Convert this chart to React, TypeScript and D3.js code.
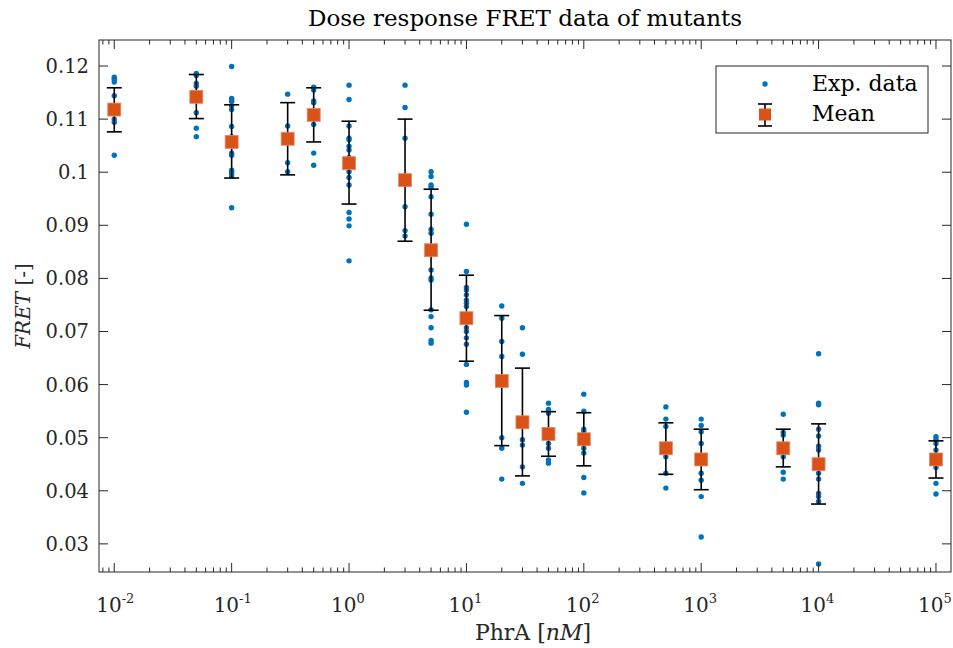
import React from "react";
import * as d3 from "d3";

const doses = [0.01, 0.05, 0.1, 0.3, 0.5, 1, 3, 5, 10, 20, 30, 50, 100, 500, 1000, 5000, 10000, 100000];

const expData: number[][] = [
  [0.1179, 0.1175, 0.1170, 0.1144, 0.1120, 0.1115, 0.1100, 0.1094, 0.1032],
  [0.1186, 0.1182, 0.1167, 0.1162, 0.1145, 0.1140, 0.1112, 0.1083, 0.1067],
  [0.1199, 0.1139, 0.1136, 0.1133, 0.1125, 0.1118, 0.1086, 0.1067, 0.1057, 0.1036, 0.1032, 0.1004, 0.1001, 0.0997, 0.0993, 0.0933],
  [0.1147, 0.1087, 0.1065, 0.1060, 0.1018, 0.1001],
  [0.1160, 0.1155, 0.1134, 0.1131, 0.1110, 0.1105, 0.1090, 0.1036, 0.1013],
  [0.1164, 0.1137, 0.1087, 0.1064, 0.1061, 0.1049, 0.1042, 0.1028, 0.1020, 0.1010, 0.1001, 0.0990, 0.0976, 0.0924, 0.0912, 0.0899, 0.0833],
  [0.1164, 0.1122, 0.1064, 0.0990, 0.0980, 0.0935, 0.0890, 0.0880],
  [0.1001, 0.0992, 0.0976, 0.0972, 0.0954, 0.0921, 0.0892, 0.0885, 0.0850, 0.0816, 0.0801, 0.0797, 0.0741, 0.0728, 0.0707, 0.0683, 0.0678],
  [0.0902, 0.0813, 0.0783, 0.0778, 0.0769, 0.0759, 0.0753, 0.0747, 0.0730, 0.0720, 0.0707, 0.0700, 0.0688, 0.0676, 0.0638, 0.0604, 0.0599, 0.0548],
  [0.0748, 0.0725, 0.0681, 0.0653, 0.0610, 0.0500, 0.0480, 0.0422],
  [0.0707, 0.0657, 0.0530, 0.0496, 0.0486, 0.0445, 0.0414],
  [0.0565, 0.0553, 0.0546, 0.0510, 0.0505, 0.0489, 0.0480, 0.0458, 0.0452],
  [0.0582, 0.0550, 0.0516, 0.0511, 0.0500, 0.0480, 0.0471, 0.0425, 0.0396],
  [0.0558, 0.0535, 0.0521, 0.0480, 0.0464, 0.0433, 0.0405],
  [0.0535, 0.0523, 0.0511, 0.0489, 0.0459, 0.0433, 0.0420, 0.0389, 0.0313],
  [0.0544, 0.0510, 0.0505, 0.0480, 0.0464, 0.0435, 0.0422],
  [0.0658, 0.0565, 0.0562, 0.0516, 0.0503, 0.0484, 0.0477, 0.0449, 0.0433, 0.0422, 0.0395, 0.0389, 0.0380, 0.0262],
  [0.0502, 0.0497, 0.0489, 0.0477, 0.0460, 0.0444, 0.0414, 0.0394],
];

const means = [0.1118, 0.1142, 0.1057, 0.1063, 0.1108, 0.1017, 0.0985, 0.0853, 0.0725, 0.0607, 0.0529, 0.0507, 0.0497, 0.0480, 0.0459, 0.0480, 0.0450, 0.0459];
const errUpper = [0.1159, 0.1184, 0.1127, 0.1131, 0.1159, 0.1096, 0.1100, 0.0968, 0.0806, 0.0730, 0.0631, 0.0549, 0.0547, 0.0528, 0.0516, 0.0516, 0.0526, 0.0494];
const errLower = [0.1076, 0.1101, 0.0989, 0.0995, 0.1057, 0.0940, 0.0870, 0.0740, 0.0644, 0.0485, 0.0428, 0.0465, 0.0447, 0.0431, 0.0402, 0.0445, 0.0375, 0.0424];

const yTicks = [0.03, 0.04, 0.05, 0.06, 0.07, 0.08, 0.09, 0.1, 0.11, 0.12];
const yTickLabels = ["0.03", "0.04", "0.05", "0.06", "0.07", "0.08", "0.09", "0.1", "0.11", "0.12"];
const xTickExps = [-2, -1, 0, 1, 2, 3, 4, 5];

const title = "Dose response FRET data of mutants";
const legendLabels = ["Exp. data", "Mean"];

const W = 953, H = 648;
const L = 99, R = 951, T = 40, B = 572;
const BLUE = "#0072BD";
const ORANGE = "#D95319";
const AX = "#262626";
const FONT = "'DejaVu Serif', serif";

export default function App() {
  const x = d3.scaleLog().domain([Math.pow(10, -2.13), Math.pow(10, 5.128)]).range([L, R]);
  const y = d3.scaleLinear().domain([0.0247, 0.1249]).range([B, T]);

  const minorTicks: number[] = [];
  for (let e = -3; e <= 5; e++) {
    for (let m = 2; m <= 9; m++) {
      const v = m * Math.pow(10, e);
      if (v >= x.domain()[0] && v <= x.domain()[1]) minorTicks.push(v);
    }
  }
  const majorLen = 9, minorLen = 4.5;

  return (
    <svg width={W} height={H} style={{ position: "absolute", left: 0, top: 0, background: "#fff" }} fontFamily={FONT}>
      <rect x={0} y={0} width={W} height={H} fill="#fff" />
      {/* data points */}
      <g>
        {expData.map((arr, i) =>
          arr.map((v, j) => <circle key={`${i}-${j}`} cx={x(doses[i])} cy={y(v)} r={2.7} fill={BLUE} />)
        )}
      </g>
      {/* error bars */}
      <g stroke="#000" strokeWidth={1.6}>
        {doses.map((d, i) => {
          const cx = x(d);
          return (
            <g key={i}>
              <line x1={cx} x2={cx} y1={y(errUpper[i])} y2={y(errLower[i])} />
              <line x1={cx - 7.5} x2={cx + 7.5} y1={y(errUpper[i])} y2={y(errUpper[i])} />
              <line x1={cx - 7.5} x2={cx + 7.5} y1={y(errLower[i])} y2={y(errLower[i])} />
            </g>
          );
        })}
      </g>
      <g>
        {doses.map((d, i) => (
          <rect key={i} x={x(d) - 6.5} y={y(means[i]) - 6.5} width={13} height={13} fill={ORANGE} stroke="#E8896A" strokeWidth={0.8} />
        ))}
      </g>
      {/* axes box */}
      <g stroke={AX} strokeWidth={1} fill="none">
        <rect x={L} y={T} width={R - L} height={B - T} />
        {yTicks.map((t, i) => (
          <g key={i}>
            <line x1={L} x2={L + majorLen} y1={y(t)} y2={y(t)} />
            <line x1={R} x2={R - majorLen} y1={y(t)} y2={y(t)} />
          </g>
        ))}
        {xTickExps.map((e, i) => {
          const px = x(Math.pow(10, e));
          return (
            <g key={i}>
              <line x1={px} x2={px} y1={B} y2={B - majorLen} />
              <line x1={px} x2={px} y1={T} y2={T + majorLen} />
            </g>
          );
        })}
        {minorTicks.map((v, i) => {
          const px = x(v);
          return (
            <g key={i}>
              <line x1={px} x2={px} y1={B} y2={B - minorLen} />
              <line x1={px} x2={px} y1={T} y2={T + minorLen} />
            </g>
          );
        })}
      </g>
      {/* y tick labels */}
      <g fontSize={19.5} fill={AX} textAnchor="end">
        {yTicks.map((t, i) => (
          <text key={i} x={L - 10} y={y(t) + 7}>{yTickLabels[i]}</text>
        ))}
      </g>
      {/* x tick labels */}
      <g fill={AX}>
        {xTickExps.map((e, i) => {
          const px = x(Math.pow(10, e));
          return (
            <text key={i} x={px - 18} y={612} fontSize={20}>
              10
              <tspan dy={-9} fontSize={13}>{e < 0 ? "-" + Math.abs(e) : String(e)}</tspan>
            </text>
          );
        })}
      </g>
      {/* title */}
      <text x={(L + R) / 2} y={26} textAnchor="middle" fontSize={23} fill="#000">{title}</text>
      {/* x label */}
      <text x={(L + R) / 2 + 8} y={640} textAnchor="middle" fontSize={22} fill={AX}>
        PhrA [<tspan fontStyle="italic">nM</tspan>]
      </text>
      {/* y label */}
      <text transform={`translate(30, ${(T + B) / 2}) rotate(-90)`} textAnchor="middle" fontSize={20} fill={AX}>
        <tspan fontStyle="italic">FRET</tspan> [-]
      </text>
      {/* legend */}
      <g>
        <rect x={716} y={66} width={212} height={67} fill="#fff" stroke={AX} strokeWidth={1} />
        <circle cx={765} cy={84} r={2.7} fill={BLUE} />
        <line x1={765} x2={765} y1={104} y2={126} stroke="#000" strokeWidth={1.6} />
        <line x1={758} x2={772} y1={104} y2={104} stroke="#000" strokeWidth={1.6} />
        <line x1={758} x2={772} y1={126} y2={126} stroke="#000" strokeWidth={1.6} />
        <rect x={759} y={108.5} width={12} height={12} fill={ORANGE} />
        <text x={812} y={91} fontSize={22} fill="#000">{legendLabels[0]}</text>
        <text x={812} y={121} fontSize={22} fill="#000">{legendLabels[1]}</text>
      </g>
    </svg>
  );
}
